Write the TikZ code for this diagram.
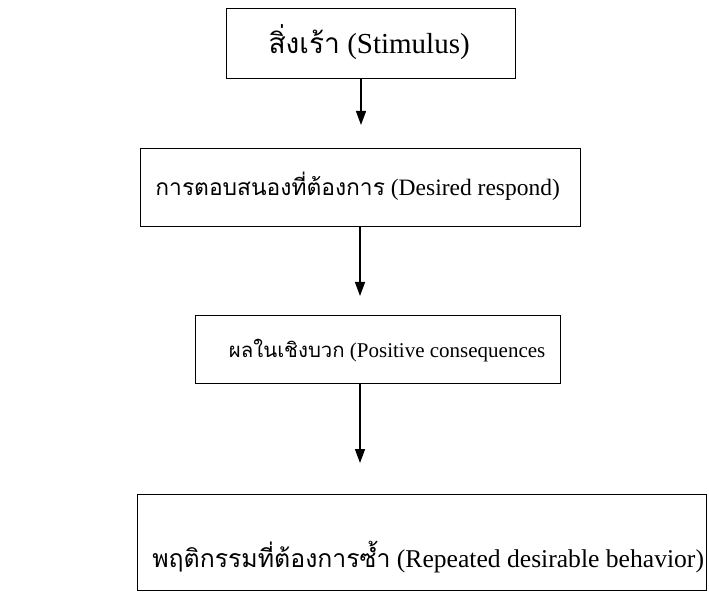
\documentclass[tikz,border=0pt]{standalone}
\usepackage{fontspec}
\setmainfont{Liberation Serif}
\newfontfamily\thaifont[Script=Thai,Scale=0.97]{Loma}
\usetikzlibrary{arrows.meta}
\begin{document}
\begin{tikzpicture}[x=1pt,y=1pt,
  box/.style={draw, line width=1.3pt, inner sep=0pt, anchor=north west},
  label/.style={inner sep=0pt},
  arr/.style={line width=1.3pt, -{Triangle[width=10pt,length=14pt]}}]
\useasboundingbox (0,0) rectangle (709,592);
\node[box, minimum width=289, minimum height=70] (b1) at (226,584) {};
\node[box, minimum width=440, minimum height=78] (b2) at (140,444) {};
\node[box, minimum width=365, minimum height=68] (b3) at (195,277) {};
\node[box, minimum width=569, minimum height=96] (b4) at (137,98) {};
\node[label, font=\fontsize{29}{33}\selectfont] (l1) at ([xshift=-2pt,yshift=2pt]b1.center) {{\thaifont สิ่งเร้า} (Stimulus)};
\node[label, font=\fontsize{23.5}{28}\selectfont] (l2) at ([xshift=-3pt,yshift=1pt]b2.center) {{\thaifont การตอบสนองที่ต้องการ} (Desired respond)};
\node[label, font=\fontsize{21}{25}\selectfont] (l3) at ([xshift=9pt,yshift=-1pt]b3.center) {{\thaifont ผลในเชิงบวก} (Positive consequences};
\node[label, font=\fontsize{25.6}{30}\selectfont] (l4) at ([xshift=6pt,yshift=-14pt]b4.center) {{\thaifont พฤติกรรมที่ต้องการซ้ำ} (Repeated desirable behavior)};
\coordinate (t1) at (361,467);
\coordinate (t2) at (360,296);
\coordinate (t3) at (360,129);
\draw[arr] (b1.south -| t1) -- (t1);
\draw[arr] (b2.south -| t2) -- (t2);
\draw[arr] (b3.south -| t3) -- (t3);
\end{tikzpicture}
\end{document}
